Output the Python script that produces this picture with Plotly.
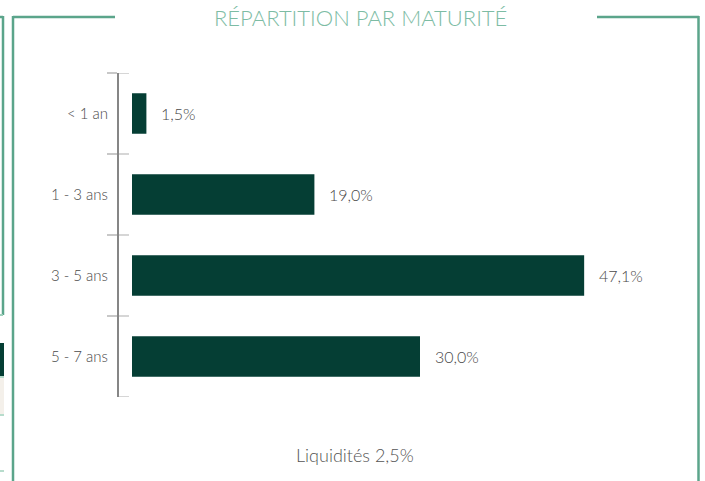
import plotly.graph_objects as go

categories = ["< 1 an", "1 - 3 ans", "3 - 5 ans", "5 - 7 ans"]
values = [1.5, 19.0, 47.1, 30.0]
title_text = "RÉPARTITION PAR MATURITÉ"
footer_text = "Liquidités 2,5%"

W, H = 705, 481
L, R, T, B = 119, 15, 73, 84
PW, PH = W - L - R, H - T - B

BAR = "#053e34"
FRAME = "#5ba58b"
TXT = "#4a4a4a"

def px(x):
    return (x - L) / PW

def py(y):
    return 1 - (y - T) / PH

fig = go.Figure()
fig.add_trace(go.Bar(
    x=values, y=categories, orientation="h",
    marker=dict(color=BAR, line=dict(width=0)),
    width=0.5, hoverinfo="skip",
))

annotations = []
for c, v in zip(categories, values):
    annotations.append(dict(
        x=v, y=c, xref="x", yref="y", xanchor="left", yanchor="middle",
        xshift=13, text=f"{v:.1f}%".replace(".", ","), showarrow=False,
        font=dict(family="Lato", size=16, color=TXT, weight=300),
    ))
annotations.append(dict(
    x=px(360), y=py(18), xref="paper", yref="paper", xanchor="center", yanchor="middle",
    text=title_text, showarrow=False,
    font=dict(family="Lato", size=22, color="#7dbca4", weight=300),
))
annotations.append(dict(
    x=px(355), y=py(455), xref="paper", yref="paper", xanchor="center", yanchor="middle",
    text=footer_text, showarrow=False,
    font=dict(family="Lato", size=18, color="#555555", weight=300),
))

shapes = []
def pline(x0, y0, x1, y1, color, width):
    shapes.append(dict(type="line", xref="paper", yref="paper",
                       x0=px(x0), y0=py(y0), x1=px(x1), y1=py(y1),
                       line=dict(color=color, width=width), layer="above"))

def prect(x0, y0, x1, y1, color):
    shapes.append(dict(type="rect", xref="paper", yref="paper",
                       x0=px(x0), y0=py(y0), x1=px(x1), y1=py(y1),
                       fillcolor=color, line=dict(width=0), layer="below"))

# frame
pline(13, 17, 115, 17, FRAME, 2.5)
pline(13, 16, 13, 482, FRAME, 2.5)
pline(597, 17, 699, 17, FRAME, 2.5)
pline(698.5, 16, 698.5, 482, FRAME, 2.5)
# neighbouring panel edge on the left
pline(-2, 17, 3, 17, FRAME, 2.5)
pline(3, 16, 3, 315, FRAME, 2.5)
pline(-2, 315, 3, 315, "#9fd0bc", 2)
prect(-2, 343, 4, 376, BAR)
prect(-2, 376, 4, 415, "#f4f0ea")
pline(-2, 377, 4, 377, "#b7dccc", 2)
pline(-2, 415, 4, 415, "#b7dccc", 2)
pline(-2, 471, 4, 471, "#b7dccc", 2)

# inner tick halves at category boundaries
for i in range(len(categories) + 1):
    shapes.append(dict(type="line", xref="paper", yref="y",
                       x0=px(119), x1=px(129), y0=i - 0.5, y1=i - 0.5,
                       line=dict(color="#c8c8c8", width=1.5), layer="above"))

fig.update_layout(
    width=W, height=H,
    margin=dict(l=L, r=R, t=T, b=B),
    paper_bgcolor="white", plot_bgcolor="white",
    showlegend=False,
    xaxis=dict(range=[-13 / 9.6, (690 - 132) / 9.6], visible=False, fixedrange=True),
    yaxis=dict(
        autorange=False, range=[3.5, -0.5], type="category",
        showline=True, linecolor="#868686", linewidth=2,
        ticks="outside", ticklen=10, tickcolor="#c8c8c8", tickwidth=1.5,
        tickson="boundaries", showgrid=False, zeroline=False, fixedrange=True,
        tickfont=dict(family="Lato", size=15, color=TXT, weight=300),
        ticklabelstandoff=6,
    ),
    annotations=annotations,
    shapes=shapes,
)

fig.write_html("out.html", config={"displayModeBar": False},
               post_script="document.body.style.margin='0';")
